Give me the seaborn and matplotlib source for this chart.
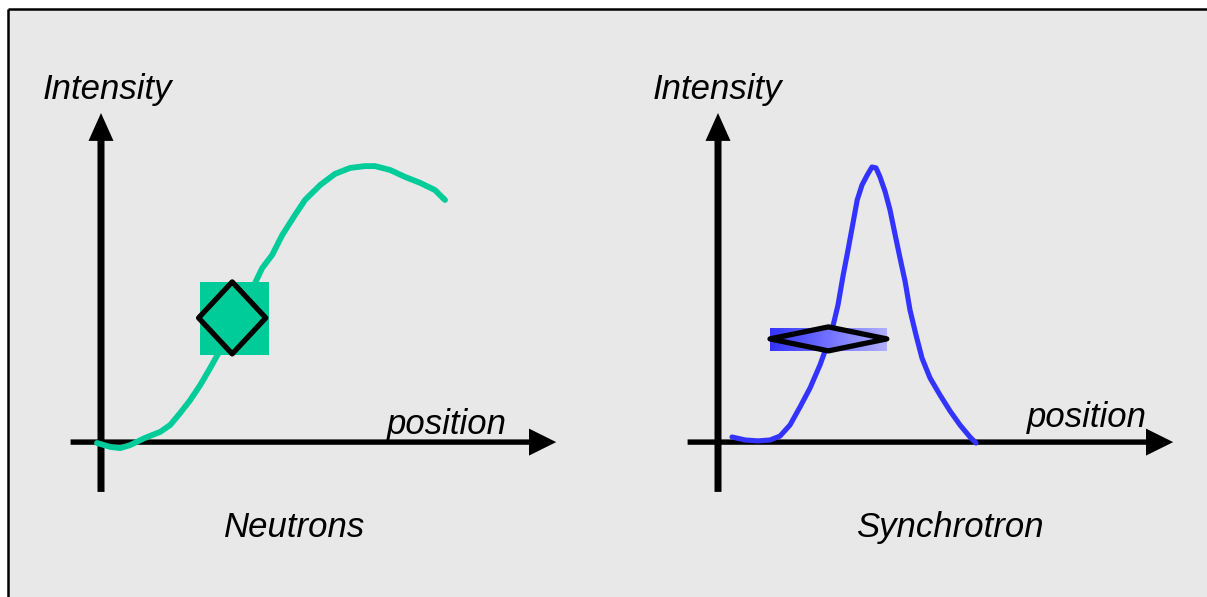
import numpy as np
import matplotlib
matplotlib.use('Agg')
import matplotlib.pyplot as plt
import seaborn as sns
from matplotlib.patches import Rectangle, Polygon
from matplotlib.colors import LinearSegmentedColormap

# dados (posicao, intensidade)
neutron_pos = [-1, 2.3, 4.8, 7.3, 11, 14.8, 17.3, 19.8, 22.3, 24.8, 27.3, 29.8, 32.8, 36,
               38.5, 40.3, 42.8, 45.3, 48.5, 51, 54.8, 58.5, 62.3, 66, 68.5, 72.3, 76,
               79.8, 83.5, 86]
neutron_int = [0, -1.3, -1.7, -0.7, 1.7, 3.7, 6, 10, 14.3, 19.3, 25, 31, 37.7, 46,
               53.3, 58.3, 62.7, 69.3, 76, 81, 86, 89.7, 91.7, 92.3, 92.3, 91, 88.7,
               86.7, 84.3, 81]

synchro_pos = [3.5, 6.8, 10, 13, 15.5, 18, 20.5, 23, 25.5, 27.3, 28.8, 30, 31.3, 32.5,
               33.8, 34.8, 36, 37.3, 38.5, 39.5, 40.5, 41.8, 43, 44.3, 45.5, 46.8, 48,
               49.5, 51, 53, 55.5, 58, 60.5, 63, 64.5]
synchro_int = [2, 1, 0.7, 1, 2.3, 6, 12, 18.3, 26, 32.7, 39.3, 46, 56, 64.3,
               73.7, 81, 86, 89.3, 92, 91.7, 88.7, 83.7, 77.7, 69.3, 61.7, 53.7, 44.3,
               36, 28.3, 21.7, 16, 10.7, 6, 2, 0]

# janela de resolucao: centro (pos, int) e semi-larguras
neutron_res_box = [33.4, 41.6, 8.6, 12.2]
neutron_res_diamond = [32.8, 41.7, 8.4, 12.0]
synchro_res_box = [27.6, 34.5, 14.6, 3.8]
synchro_res_diamond = [27.6, 34.7, 14.6, 4.0]

panel_titles = ['Neutrons', 'Synchrotron']
eixo_y = 'Intensity'
eixo_x = 'position'

VERDE = '#00cc99'
AZUL = '#3333ff'
FUNDO = '#e8e8e8'

sns.set_theme(style='white')
plt.rcParams['font.family'] = ['Liberation Sans', 'DejaVu Sans']
plt.rcParams['text.color'] = 'black'

W, H = 1207, 597
fig = plt.figure(figsize=(W / 100, H / 100), dpi=100)
fig.patch.set_facecolor('white')

# fundo cinza com borda preta em cima e a esquerda
ax_bg = fig.add_axes([0, 0, 1, 1])
ax_bg.set_xlim(0, W)
ax_bg.set_ylim(H, 0)
ax_bg.axis('off')
ax_bg.add_patch(Rectangle((8, 9), W, H, facecolor=FUNDO, edgecolor='none'))
ax_bg.plot([7.5, 7.5], [H, 8.5], color='black', lw=1.8, solid_capstyle='butt')
ax_bg.plot([7.5, W], [8.5, 8.5], color='black', lw=1.8, solid_capstyle='butt')


def criar_painel(origem_x, origem_y=443, px_x=4.0, px_y=3.0):
    """
    Cria um eixo sobre a figura toda com origem no pixel indicado.
    """
    ax = fig.add_axes([0, 0, 1, 1])
    ax.set_xlim(-origem_x / px_x, (W - origem_x) / px_x)
    ax.set_ylim(-(H - origem_y) / px_y, origem_y / px_y)
    ax.axis('off')
    ax.patch.set_alpha(0)
    # eixos com setas
    ax.arrow(0, -16.3, 0, 126.3 - 9.3, width=1.75, head_width=6.25, head_length=9.3,
             length_includes_head=False, color='black', lw=0)
    ax.arrow(-7.6, 0.3, 121.4 - 6.8, 0, width=1.8, head_width=9, head_length=6.8,
             length_includes_head=False, color='black', lw=0)
    return ax


def desenhar_losango(ax, caixa):
    cx, cy, hw, hh = caixa
    verts = [(cx - hw, cy), (cx, cy + hh), (cx + hw, cy), (cx, cy - hh)]
    ax.add_patch(Polygon(verts, closed=True, fill=False, edgecolor='black', lw=3.8,
                         joinstyle='round', zorder=5))


# painel esquerdo - neutrons
ax1 = criar_painel(101)
sns.lineplot(x=neutron_pos, y=neutron_int, ax=ax1, sort=False, estimator=None,
             color=VERDE, lw=4.2, solid_capstyle='round', solid_joinstyle='round', zorder=2)
cx, cy, hw, hh = neutron_res_box
ax1.add_patch(Rectangle((cx - hw, cy - hh), 2 * hw, 2 * hh, facecolor=VERDE,
                        edgecolor='none', zorder=3))
desenhar_losango(ax1, neutron_res_diamond)
ax1.text(-14.5, 117.7, eixo_y, fontsize=25, style='italic', ha='left', va='center')
ax1.text(71.5, 6.3, eixo_x, fontsize=25, style='italic', ha='left', va='center')
ax1.text(48.4, -28.3, panel_titles[0], fontsize=25, style='italic', ha='center', va='center')

# painel direito - sincrotron
ax2 = criar_painel(718)
sns.lineplot(x=synchro_pos, y=synchro_int, ax=ax2, sort=False, estimator=None,
             color=AZUL, lw=3.7, solid_capstyle='round', solid_joinstyle='round', zorder=2)
cx, cy, hw, hh = synchro_res_box
grad = LinearSegmentedColormap.from_list('grad', ['#3333ff', '#b0b0ff'])
ax2.imshow(np.linspace(0, 1, 256)[None, :], cmap=grad, aspect='auto',
           extent=(cx - hw, cx + hw, cy - hh, cy + hh), zorder=3)
desenhar_losango(ax2, synchro_res_diamond)
ax2.set_xlim(-718 / 4.0, (W - 718) / 4.0)
ax2.set_ylim(-(H - 443) / 3.0, 443 / 3.0)
ax2.text(-16.3, 117.7, eixo_y, fontsize=25, style='italic', ha='left', va='center')
ax2.text(77.3, 8.5, eixo_x, fontsize=25, style='italic', ha='left', va='center')
ax2.text(58.0, -28.3, panel_titles[1], fontsize=25, style='italic', ha='center', va='center')

plt.savefig('out.png', dpi=100, facecolor=fig.get_facecolor())
